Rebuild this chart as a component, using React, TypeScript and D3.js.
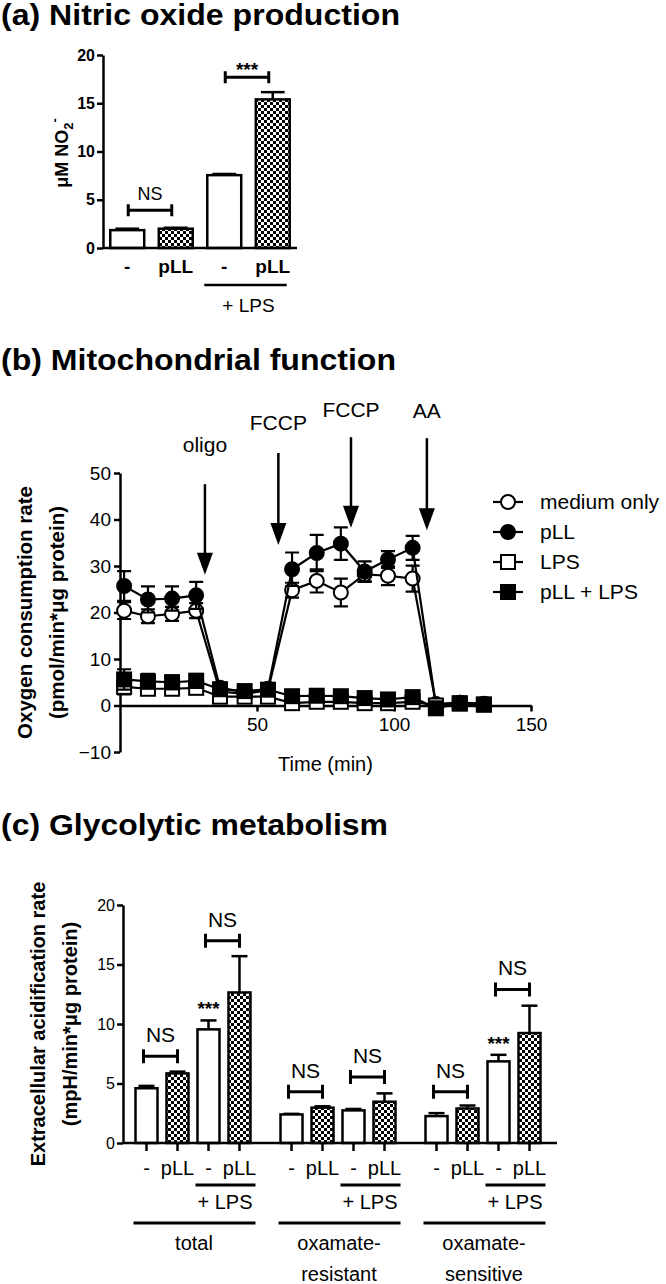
import React, { useRef, useEffect } from 'react';
import * as d3 from 'd3';

const FONT = '"Liberation Sans", Arial, Helvetica, sans-serif';

// (a) nitric oxide production
const noLabels = ['-', 'pLL', '-', 'pLL'];
const noValues = [1.85, 2.0, 7.55, 15.4];
const noErrors = [0.15, 0.1, 0.12, 0.75];
const noTicks = [0, 5, 10, 15, 20];
const noBrackets = [
  { from: 0, to: 1, level: 3.9, label: 'NS' },
  { from: 2, to: 3, level: 17.7, label: '***' },
];

// (b) mitochondrial function
const times = [1.5, 10.2, 19, 27.8, 36.5, 45.5, 54, 62.8, 71.8, 80.6, 89.3, 97.8, 106.8, 115.3, 124, 132.8];
const mediumOnly = [20.4, 19.2, 19.7, 20.4, 3.0, 2.5, 3.3, 24.8, 26.8, 24.3, 28.2, 27.9, 27.3, 0.3, 0.6, 0.4];
const mediumErr = [1.8, 1.5, 1.5, 1.6, 0.8, 0.7, 0.8, 1.6, 2.5, 3.0, 1.5, 2.0, 2.8, 0.5, 0.5, 0.5];
const pLL = [25.7, 22.8, 23.0, 23.7, 3.8, 2.9, 3.6, 29.3, 32.8, 34.8, 28.8, 31.4, 33.9, 0.2, 0.6, 0.3];
const pLLErr = [3.2, 2.8, 2.6, 2.9, 0.8, 0.6, 0.8, 3.6, 3.9, 3.5, 2.2, 1.8, 2.6, 0.4, 0.4, 0.4];
const lps = [4.0, 3.6, 3.6, 3.8, 1.9, 1.9, 1.9, 0.5, 0.8, 0.8, 0.5, 0.5, 0.8, 0.0, 0.4, 0.2];
const lpsErr = [1.6, 1.2, 1.2, 1.2, 0.6, 0.6, 0.6, 0.4, 0.4, 0.4, 0.4, 0.4, 0.4, 0.3, 0.3, 0.3];
const pllLps = [5.6, 5.2, 5.0, 5.3, 3.5, 3.1, 3.4, 2.0, 2.1, 2.0, 1.6, 1.3, 1.8, -0.6, 0.5, 0.2];
const pllLpsErr = [2.2, 1.6, 1.5, 1.5, 0.8, 0.8, 0.8, 0.5, 0.5, 0.5, 0.5, 0.5, 0.6, 0.6, 0.5, 0.5];
const seriesNames = ['medium only', 'pLL', 'LPS', 'pLL + LPS'];
const ocrTicks = [-10, 0, 10, 20, 30, 40, 50];
const timeTicks = [50, 100, 150];
const injections = ['oligo', 'FCCP', 'FCCP', 'AA'];
const injectionTimes = [31, 57.8, 84.3, 112];
const injectionTops = [47.6, 54.3, 57.7, 57.5];
const injectionTips = [28.1, 34.5, 38.2, 37.7];
const injectionLabelLevels = [54.5, 59.2, 62, 61.8];

// (c) glycolytic metabolism
const groups = ['total', 'oxamate-resistant', 'oxamate-sensitive'];
const barLabels = ['-', 'pLL', '-', 'pLL'];
const ecarValues = [
  [4.6, 5.85, 9.55, 12.65],
  [2.4, 2.97, 2.74, 3.47],
  [2.26, 2.9, 6.86, 9.24],
];
const ecarErrors = [
  [0.2, 0.15, 0.75, 3.05],
  [0.05, 0.12, 0.12, 0.7],
  [0.25, 0.25, 0.55, 2.3],
];
const ecarTicks = [0, 5, 10, 15, 20];
const ecarBrackets = [
  [{ from: 0, to: 1, level: 7.3 }, { from: 2, to: 3, level: 17.0 }],
  [{ from: 0, to: 1, level: 4.3 }, { from: 2, to: 3, level: 5.55 }],
  [{ from: 0, to: 1, level: 4.3 }, { from: 2, to: 3, level: 12.9 }],
];
const ecarStars = [true, false, true];

function styleAxis(g, size, weight) {
  g.attr('font-size', size).attr('font-family', FONT).attr('font-weight', weight);
  g.select('.domain').attr('stroke-width', 2.5).attr('stroke', '#000');
  g.selectAll('.tick line').attr('stroke-width', 2.5).attr('stroke', '#000');
  g.selectAll('.tick text').attr('fill', '#000');
}

function bracket(g, x1, x2, y, h) {
  g.append('path')
    .attr('d', `M${x1},${y - h}V${y + h}M${x1},${y}H${x2}M${x2},${y - h}V${y + h}`)
    .attr('stroke', '#000').attr('stroke-width', 3).attr('fill', 'none');
}

function App() {
  const svgRef = useRef(null);

  useEffect(() => {
    const svg = d3.select(svgRef.current);
    svg.selectAll('*').remove();
    svg.attr('font-family', FONT);

    const pat = svg.append('defs').append('pattern')
      .attr('id', 'check').attr('width', 6).attr('height', 6)
      .attr('patternUnits', 'userSpaceOnUse');
    pat.append('rect').attr('width', 6).attr('height', 6).attr('fill', '#fff');
    pat.append('rect').attr('width', 3).attr('height', 3).attr('fill', '#000');
    pat.append('rect').attr('x', 3).attr('y', 3).attr('width', 3).attr('height', 3).attr('fill', '#000');

    // titles
    const titles = [
      { t: '(a) Nitric oxide production', y: 25, len: 399 },
      { t: '(b) Mitochondrial function', y: 370, len: 395 },
      { t: '(c) Glycolytic metabolism', y: 835, len: 387 },
    ];
    titles.forEach(d => {
      svg.append('text').attr('x', 1).attr('y', d.y).text(d.t)
        .attr('font-size', 29).attr('font-weight', 'bold')
        .attr('textLength', d.len).attr('lengthAdjust', 'spacingAndGlyphs');
    });

    // ---------- (a) ----------
    const ya = d3.scaleLinear().domain([0, 20]).range([248, 55]);
    const xa = d3.scaleBand().domain(d3.range(4)).range([103, 297]).paddingInner(0.3).paddingOuter(0.15);
    const ga = svg.append('g');
    const axA = ga.append('g').attr('transform', 'translate(103,0)')
      .call(d3.axisLeft(ya).tickValues(noTicks).tickSize(6).tickSizeOuter(0).tickPadding(2));
    styleAxis(axA, 16, 'bold');

    noValues.forEach((v, i) => {
      const x = xa(i);
      const w = xa.bandwidth();
      const cx = x + w / 2;
      const top = ya(v + noErrors[i]);
      ga.append('line').attr('x1', cx).attr('x2', cx).attr('y1', ya(v)).attr('y2', top)
        .attr('stroke', '#000').attr('stroke-width', 2.5);
      ga.append('line').attr('x1', cx - w * 0.35).attr('x2', cx + w * 0.35).attr('y1', top).attr('y2', top)
        .attr('stroke', '#000').attr('stroke-width', 2.5);
      ga.append('rect').attr('x', x).attr('y', ya(v)).attr('width', w).attr('height', ya(0) - ya(v))
        .attr('fill', i % 2 ? 'url(#check)' : '#fff').attr('stroke', '#000').attr('stroke-width', 2.5);
      ga.append('text').attr('x', cx).attr('y', 273).attr('text-anchor', 'middle')
        .attr('font-size', 19).attr('font-weight', 'bold').text(noLabels[i]);
    });
    ga.append('line').attr('x1', 103).attr('x2', 297).attr('y1', ya(0)).attr('y2', ya(0))
      .attr('stroke', '#000').attr('stroke-width', 2.5);

    noBrackets.forEach(b => {
      const x1 = xa(b.from) + xa.bandwidth() / 2 + 1;
      const x2 = xa(b.to) + xa.bandwidth() / 2 - 4;
      const y = ya(b.level);
      bracket(ga, x1, x2, y, 6);
      const star = b.label === '***';
      ga.append('text').attr('x', (x1 + x2) / 2).attr('y', star ? y - 1 : y - 10)
        .attr('text-anchor', 'middle').attr('font-size', star ? 19 : 18)
        .attr('font-weight', star ? 'bold' : 'normal').text(b.label);
    });

    ga.append('line').attr('x1', xa(2) - 3).attr('x2', xa(3) + xa.bandwidth() - 3).attr('y1', 285).attr('y2', 285)
      .attr('stroke', '#000').attr('stroke-width', 2.5);
    ga.append('text').attr('x', (xa(2) + xa(3) + xa.bandwidth()) / 2).attr('y', 312).attr('text-anchor', 'middle')
      .attr('font-size', 19).text('+ LPS');

    const yla = ga.append('text').attr('transform', 'translate(68,153) rotate(-90)')
      .attr('text-anchor', 'middle').attr('font-size', 18).attr('font-weight', 'bold');
    yla.append('tspan').text('μM NO');
    yla.append('tspan').attr('dy', 5).attr('font-size', 13).text('2');
    yla.append('tspan').attr('dy', -14).attr('font-size', 13).text('-');

    // ---------- (b) ----------
    const xb = d3.scaleLinear().domain([0, 150]).range([120, 531]);
    const yb = d3.scaleLinear().domain([-10, 50]).range([752, 473]);
    const gb = svg.append('g');
    const axBy = gb.append('g').attr('transform', 'translate(120,0)')
      .call(d3.axisLeft(yb).tickValues(ocrTicks).tickSize(6).tickSizeOuter(0).tickPadding(3));
    styleAxis(axBy, 19, 'normal');
    const axBx = gb.append('g').attr('transform', `translate(0,${yb(0)})`)
      .call(d3.axisBottom(xb).tickValues(timeTicks).tickSize(6).tickSizeOuter(0).tickPadding(6));
    styleAxis(axBx, 19, 'normal');

    gb.append('text').attr('x', xb(75)).attr('y', 771).attr('text-anchor', 'middle')
      .attr('font-size', 20).text('Time (min)');
    const ylb = gb.append('g').attr('transform', `translate(0,${(yb(-10) + yb(50)) / 2})`);
    ylb.append('text').attr('transform', 'translate(32,0) rotate(-90)').attr('text-anchor', 'middle')
      .attr('font-size', 20.5).attr('font-weight', 'bold').text('Oxygen consumption rate');
    ylb.append('text').attr('transform', 'translate(64,0) rotate(-90)').attr('text-anchor', 'middle')
      .attr('font-size', 20.5).attr('font-weight', 'bold').text('(pmol/min*μg protein)');

    // injection arrows
    injections.forEach((name, i) => {
      const x = xb(injectionTimes[i]);
      const tip = yb(injectionTips[i]);
      gb.append('line').attr('x1', x).attr('x2', x).attr('y1', yb(injectionTops[i])).attr('y2', tip - 18)
        .attr('stroke', '#000').attr('stroke-width', 2.5);
      gb.append('path').attr('d', `M${x - 8},${tip - 22}L${x + 8},${tip - 22}L${x},${tip}Z`).attr('fill', '#000');
      gb.append('text').attr('x', x).attr('y', yb(injectionLabelLevels[i])).attr('text-anchor', 'middle')
        .attr('font-size', 21).text(name);
    });

    const series = [
      { v: mediumOnly, e: mediumErr, shape: 'circle', filled: false },
      { v: pLL, e: pLLErr, shape: 'circle', filled: true },
      { v: lps, e: lpsErr, shape: 'square', filled: false },
      { v: pllLps, e: pllLpsErr, shape: 'square', filled: true },
    ];
    const line = d3.line().x(d => xb(d[0])).y(d => yb(d[1]));
    const marker = (g, s, x, y) => {
      if (s.shape === 'circle') {
        g.append('circle').attr('cx', x).attr('cy', y).attr('r', 7)
          .attr('fill', s.filled ? '#000' : '#fff').attr('stroke', '#000').attr('stroke-width', 2);
      } else {
        g.append('rect').attr('x', x - 7).attr('y', y - 7).attr('width', 14).attr('height', 14)
          .attr('fill', s.filled ? '#000' : '#fff').attr('stroke', '#000').attr('stroke-width', 2);
      }
    };
    series.forEach(s => {
      const sg = gb.append('g');
      times.forEach((t, i) => {
        const x = xb(t);
        const y1 = yb(s.v[i] - s.e[i]);
        const y2 = yb(s.v[i] + s.e[i]);
        sg.append('path').attr('d', `M${x},${y1}V${y2}M${x - 7},${y1}H${x + 7}M${x - 7},${y2}H${x + 7}`)
          .attr('stroke', '#000').attr('stroke-width', 2.2).attr('fill', 'none');
      });
      sg.append('path').datum(times.map((t, i) => [t, s.v[i]])).attr('d', line)
        .attr('fill', 'none').attr('stroke', '#000').attr('stroke-width', 2.2);
      times.forEach((t, i) => marker(sg, s, xb(t), yb(s.v[i])));
    });

    // legend
    seriesNames.forEach((name, i) => {
      const y = 502 + i * 30;
      gb.append('line').attr('x1', 493).attr('x2', 523).attr('y1', y).attr('y2', y)
        .attr('stroke', '#000').attr('stroke-width', 2.2);
      marker(gb, series[i], 508, y);
      gb.append('text').attr('x', 540).attr('y', y + 7).attr('font-size', 21).text(name);
    });

    // ---------- (c) ----------
    const yc = d3.scaleLinear().domain([0, 20]).range([1143, 905]);
    const xg = d3.scaleBand().domain(groups).range([135.5, 540.5]).paddingInner(0.207).paddingOuter(0);
    const xi = d3.scaleBand().domain(d3.range(4)).range([0, xg.bandwidth()]).paddingInner(0.29).paddingOuter(0);
    const gc = svg.append('g');
    const axC = gc.append('g').attr('transform', 'translate(123,0)')
      .call(d3.axisLeft(yc).tickValues(ecarTicks).tickSize(6).tickSizeOuter(0).tickPadding(2));
    styleAxis(axC, 16, 'normal');

    const w = xi.bandwidth();
    groups.forEach((grp, gi) => {
      const gx = xg(grp);
      const left = (i) => gx + xi(i);
      const cen = (i) => gx + xi(i) + w / 2;
      ecarValues[gi].forEach((v, i) => {
        const cx = cen(i);
        const top = yc(v + ecarErrors[gi][i]);
        gc.append('line').attr('x1', cx).attr('x2', cx).attr('y1', yc(v)).attr('y2', top)
          .attr('stroke', '#000').attr('stroke-width', 2.5);
        gc.append('line').attr('x1', cx - 8).attr('x2', cx + 8).attr('y1', top).attr('y2', top)
          .attr('stroke', '#000').attr('stroke-width', 2.5);
        gc.append('rect').attr('x', left(i)).attr('y', yc(v)).attr('width', w).attr('height', yc(0) - yc(v))
          .attr('fill', i % 2 ? 'url(#check)' : '#fff').attr('stroke', '#000').attr('stroke-width', 2.5);
        gc.append('line').attr('x1', cx).attr('x2', cx).attr('y1', yc(0)).attr('y2', yc(0) + 8)
          .attr('stroke', '#000').attr('stroke-width', 2.5);
        gc.append('text').attr('x', cx).attr('y', 1175).attr('text-anchor', 'middle')
          .attr('font-size', 20).text(barLabels[i]);
      });
      ecarBrackets[gi].forEach(b => {
        const x1 = cen(b.from) - 3;
        const x2 = cen(b.to);
        const y = yc(b.level);
        bracket(gc, x1, x2, y, 7);
        gc.append('text').attr('x', (x1 + x2) / 2).attr('y', y - 14).attr('text-anchor', 'middle')
          .attr('font-size', 21).text('NS');
      });
      if (ecarStars[gi]) {
        gc.append('text').attr('x', cen(2)).attr('y', yc(ecarValues[gi][2] + ecarErrors[gi][2]) - 5)
          .attr('text-anchor', 'middle').attr('font-size', 19).attr('font-weight', 'bold').text('***');
      }
      gc.append('line').attr('x1', left(2) - 2).attr('x2', left(3) + w + 5).attr('y1', 1185).attr('y2', 1185)
        .attr('stroke', '#000').attr('stroke-width', 3);
      gc.append('text').attr('x', (left(2) + left(3) + w) / 2 + 1).attr('y', 1209).attr('text-anchor', 'middle')
        .attr('font-size', 20).text('+ LPS');
      gc.append('line').attr('x1', left(0) - 2).attr('x2', left(3) + w + 5).attr('y1', 1223).attr('y2', 1223)
        .attr('stroke', '#000').attr('stroke-width', 3);
      const parts = grp.includes('-') ? [grp.split('-')[0] + '-', grp.split('-')[1]] : [grp];
      parts.forEach((p, k) => {
        gc.append('text').attr('x', (left(0) + left(3) + w) / 2 + 1).attr('y', 1250 + k * 31)
          .attr('text-anchor', 'middle').attr('font-size', 20).text(p);
      });
    });
    gc.append('line').attr('x1', 123).attr('x2', 557).attr('y1', yc(0)).attr('y2', yc(0))
      .attr('stroke', '#000').attr('stroke-width', 2.5);

    const ylc = gc.append('g').attr('transform', `translate(0,${(yc(0) + yc(20)) / 2})`);
    ylc.append('text').attr('transform', 'translate(45,0) rotate(-90)').attr('text-anchor', 'middle')
      .attr('font-size', 20).attr('font-weight', 'bold').text('Extracellular acidification rate');
    ylc.append('text').attr('transform', 'translate(77,0) rotate(-90)').attr('text-anchor', 'middle')
      .attr('font-size', 20).attr('font-weight', 'bold').text('(mpH/min*μg protein)');
  }, []);

  return (
    <svg ref={svgRef} width={666} height={1284}
      style={{ position: 'absolute', left: 0, top: 0, background: '#fff', display: 'block' }} />
  );
}

export default App;
